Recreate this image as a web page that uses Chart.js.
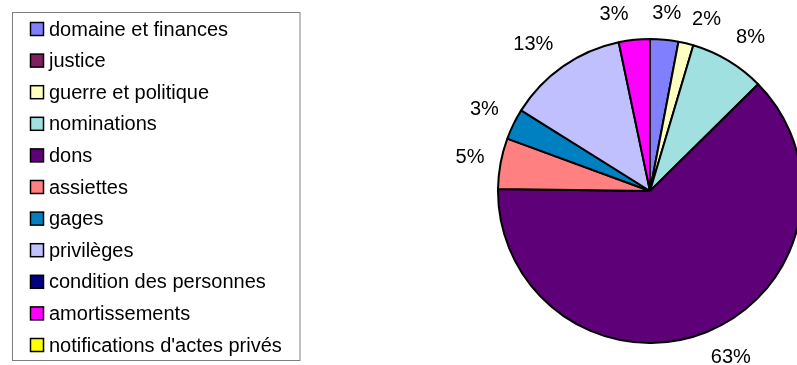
<!DOCTYPE html>
<html lang="fr">
<head>
    <meta charset="UTF-8">
    <title>Répartition des actes</title>
    <script src="https://cdn.jsdelivr.net/npm/chart.js"></script>
    <style>
        body { margin: 0; background: #fff; }
        canvas { display: block; }
    </style>
</head>
<body>
    <canvas id="pieChart" width="797" height="365"></canvas>
    <script>
        // categories, clockwise from 12 o'clock
        const categories = [
            'domaine et finances', 'justice', 'guerre et politique', 'nominations',
            'dons', 'assiettes', 'gages', 'privilèges',
            'condition des personnes', 'amortissements', "notifications d'actes privés"
        ];
        // share of acts (%)
        const shares = [3.0, 0, 1.6, 8.0, 62.6, 5.4, 3.3, 12.8, 0, 3.3, 0];
        const sliceColors = [
            '#8080ff', '#802060', '#ffffc0', '#a0e0e0',
            '#5e0078', '#ff8080', '#0080c0', '#c0c0ff',
            '#000080', '#ff00ff', '#ffff00'
        ];

        const FONT = '20px "Liberation Sans", Arial, sans-serif';

        // small angular shifts (degrees) so neighbouring labels don't crowd, like the original
        const labelShift = { 2: 4.5, 3: 2.3, 4: -4, 7: -3.6, 9: -5.6 };

        // percentage labels outside each non-empty slice
        const percentLabels = {
            id: 'percentLabels',
            afterDatasetsDraw(chart) {
                const ctx = chart.ctx;
                const meta = chart.getDatasetMeta(0);
                const data = chart.data.datasets[0].data;
                const total = data.reduce((a, b) => a + b, 0);
                ctx.save();
                ctx.font = FONT;
                ctx.fillStyle = '#000';
                ctx.textAlign = 'center';
                ctx.textBaseline = 'middle';
                meta.data.forEach((arc, i) => {
                    if (!data[i]) return;
                    const p = arc.getProps(['x', 'y', 'startAngle', 'endAngle', 'outerRadius'], true);
                    const mid = (p.startAngle + p.endAngle) / 2 + (labelShift[i] || 0) * Math.PI / 180;
                    const text = Math.round(data[i] / total * 100) + '%';
                    const w = ctx.measureText(text).width;
                    const c = Math.cos(mid), s = Math.sin(mid);
                    const half = Math.abs(c) * w / 2 + Math.abs(s) * 10;
                    const r = p.outerRadius + 15 + half;
                    ctx.fillText(text, p.x + c * r, p.y + s * r);
                });
                ctx.restore();
            }
        };

        // boxed legend on the left
        const boxedLegend = {
            id: 'boxedLegend',
            afterDraw(chart) {
                const ctx = chart.ctx;
                const labels = chart.data.labels;
                const colors = chart.data.datasets[0].backgroundColor;
                ctx.save();
                ctx.strokeStyle = '#808080';
                ctx.lineWidth = 1;
                ctx.strokeRect(12.5, 12.5, 287.5, 348);
                ctx.font = FONT;
                ctx.textBaseline = 'middle';
                labels.forEach((label, i) => {
                    const y = 29 + i * 31.6;
                    ctx.fillStyle = colors[i];
                    ctx.fillRect(30.5, y - 6.5, 13, 13);
                    ctx.strokeStyle = '#000';
                    ctx.lineWidth = 1.5;
                    ctx.strokeRect(30.5, y - 6.5, 13, 13);
                    ctx.fillStyle = '#000';
                    ctx.fillText(label, 49, y + 1);
                });
                ctx.restore();
            }
        };

        new Chart(document.getElementById('pieChart'), {
            type: 'pie',
            data: {
                labels: categories,
                datasets: [{
                    data: shares,
                    backgroundColor: sliceColors,
                    borderColor: '#000',
                    borderWidth: 2,
                    radius: 152
                }]
            },
            options: {
                responsive: false,
                animation: false,
                events: [],
                layout: { padding: { left: 503, top: 17, right: 0, bottom: 0 } },
                plugins: {
                    legend: { display: false },
                    tooltip: { enabled: false }
                }
            },
            plugins: [percentLabels, boxedLegend]
        });
    </script>
</body>
</html>
